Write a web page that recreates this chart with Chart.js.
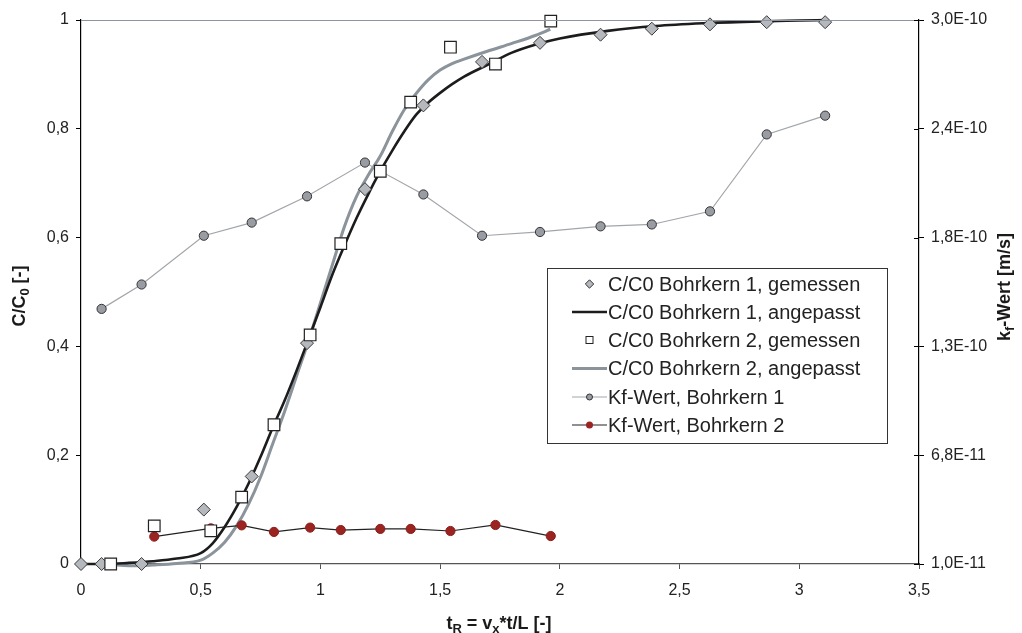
<!DOCTYPE html>
<html><head><meta charset="utf-8">
<script src="https://cdn.jsdelivr.net/npm/chart.js@4/dist/chart.umd.min.js"></script>
<style>html,body{margin:0;padding:0;background:#fff}</style>
</head><body>
<canvas id="c" width="1022" height="633"></canvas>
<script>
// ---- data ----
const m1X = [0, 0.086, 0.253, 0.513, 0.713, 0.944, 1.186, 1.43, 1.675, 1.917, 2.17, 2.384, 2.627, 2.864, 3.108];
const m1Y = [0, 0, 0, 0.10, 0.161, 0.406, 0.689, 0.843, 0.923, 0.958, 0.973, 0.984, 0.992, 0.996, 0.996];

const fit1X = [0, 0.1, 0.2, 0.3, 0.4, 0.5, 0.55, 0.6, 0.65, 0.7, 0.75, 0.8, 0.85, 0.9, 0.95, 1.0, 1.05, 1.1, 1.15, 1.2, 1.25, 1.3, 1.35, 1.4, 1.45, 1.5, 1.55, 1.6, 1.7, 1.8, 1.9, 2.0, 2.2, 2.4, 2.6, 2.8, 3.0, 3.11];
const fit1Y = [0, 0, 0.002, 0.005, 0.01, 0.02, 0.038, 0.068, 0.105, 0.148, 0.197, 0.25, 0.3, 0.355, 0.413, 0.472, 0.532, 0.585, 0.635, 0.68, 0.722, 0.76, 0.795, 0.826, 0.848, 0.866, 0.882, 0.896, 0.918, 0.94, 0.955, 0.966, 0.98, 0.989, 0.994, 0.997, 0.999, 1.0];

const m2X = [0.124, 0.306, 0.542, 0.671, 0.806, 0.957, 1.085, 1.25, 1.377, 1.543, 1.731, 1.962];
const m2Y = [0, 0.07, 0.061, 0.123, 0.256, 0.421, 0.589, 0.722, 0.849, 0.950, 0.919, 0.998];

const fit2X = [0.1, 0.15, 0.2, 0.25, 0.3, 0.4, 0.5, 0.55, 0.6, 0.65, 0.7, 0.75, 0.8, 0.85, 0.9, 0.95, 1.0, 1.05, 1.1, 1.15, 1.2, 1.25, 1.3, 1.35, 1.4, 1.45, 1.5, 1.55, 1.6, 1.7, 1.8, 1.9, 1.96];
const fit2Y = [0, -0.002, -0.003, -0.003, -0.002, 0.001, 0.007, 0.02, 0.04, 0.07, 0.11, 0.16, 0.22, 0.28, 0.345, 0.41, 0.48, 0.55, 0.62, 0.675, 0.715, 0.75, 0.795, 0.835, 0.865, 0.89, 0.908, 0.92, 0.928, 0.943, 0.957, 0.972, 0.983];

const kf1X = [0.086, 0.253, 0.513, 0.713, 0.944, 1.186, 1.43, 1.675, 1.917, 2.17, 2.384, 2.627, 2.864, 3.108];
const kf1Y = [1.46e-10, 1.59e-10, 1.85e-10, 1.92e-10, 2.06e-10, 2.24e-10, 2.07e-10, 1.85e-10, 1.87e-10, 1.90e-10, 1.91e-10, 1.98e-10, 2.39e-10, 2.49e-10];

const kf2X = [0.306, 0.542, 0.671, 0.806, 0.957, 1.085, 1.25, 1.377, 1.543, 1.731, 1.962];
const kf2Y = [2.46e-11, 2.90e-11, 3.06e-11, 2.71e-11, 2.94e-11, 2.81e-11, 2.87e-11, 2.87e-11, 2.76e-11, 3.08e-11, 2.49e-11];

const xTickLabels = ['0', '0,5', '1', '1,5', '2', '2,5', '3', '3,5'];
const yTickLabels = ['0', '0,2', '0,4', '0,6', '0,8', '1'];
const y2TickValues = [1.0e-11, 6.8e-11, 1.26e-10, 1.84e-10, 2.42e-10, 3.0e-10];
const y2TickLabels = ['1,0E-11', '6,8E-11', '1,3E-10', '1,8E-10', '2,4E-10', '3,0E-10'];

const seriesNames = ['C/C0 Bohrkern 1, gemessen', 'C/C0 Bohrkern 1, angepasst', 'C/C0 Bohrkern 2, gemessen', 'C/C0 Bohrkern 2, angepasst', 'Kf-Wert, Bohrkern 1', 'Kf-Wert, Bohrkern 2'];

const pts = (xs, ys) => xs.map((x, i) => ({x: x, y: ys[i]}));
const FONT = "'Liberation Sans', Arial, sans-serif";

const datasets = [
  {label: seriesNames[0], data: pts(m1X, m1Y), showLine: false, pointStyle: 'rectRot', pointRadius: 6.5,
   pointBackgroundColor: '#b5b8bd', pointBorderColor: '#3a3a3a', pointBorderWidth: 1, yAxisID: 'y', order: 1, clip: false},
  {label: seriesNames[1], data: pts(fit1X, fit1Y), borderColor: '#1c1c1c', borderWidth: 2.6, pointRadius: 0,
   cubicInterpolationMode: 'monotone', yAxisID: 'y', order: 5, clip: false},
  {label: seriesNames[2], data: pts(m2X, m2Y), showLine: false, pointStyle: 'rect', pointRadius: 8.2,
   pointBackgroundColor: '#ffffff', pointBorderColor: '#222', pointBorderWidth: 1.2, yAxisID: 'y', order: 0, clip: false},
  {label: seriesNames[3], data: pts(fit2X, fit2Y), borderColor: '#8b939b', borderWidth: 3, pointRadius: 0,
   cubicInterpolationMode: 'monotone', yAxisID: 'y', order: 6, clip: false},
  {label: seriesNames[4], data: pts(kf1X, kf1Y), borderColor: '#a2a6ab', borderWidth: 1.2, pointRadius: 4.6,
   pointStyle: 'circle', pointBackgroundColor: '#999da3', pointBorderColor: '#333', pointBorderWidth: 1, yAxisID: 'y2', order: 3, clip: false},
  {label: seriesNames[5], data: pts(kf2X, kf2Y), borderColor: '#222', borderWidth: 1.2, pointRadius: 4.6,
   pointStyle: 'circle', pointBackgroundColor: '#9b2320', pointBorderColor: '#8a1f1c', pointBorderWidth: 1, yAxisID: 'y2', order: 2, clip: false}
];

function drawSubText(ctx, parts, x, y, align) {
  const big = 'bold 18px ' + FONT, small = 'bold 13px ' + FONT;
  let w = 0;
  parts.forEach(p => { ctx.font = p[1] ? small : big; w += ctx.measureText(p[0]).width; });
  let cx = align === 'center' ? x - w / 2 : x;
  ctx.textAlign = 'left';
  ctx.textBaseline = 'alphabetic';
  parts.forEach(p => {
    ctx.font = p[1] ? small : big;
    ctx.fillText(p[0], cx, p[1] ? y + 4 : y);
    cx += ctx.measureText(p[0]).width;
  });
}

const decor = {
  id: 'decor',
  afterDraw(chart) {
    const ctx = chart.ctx, a = chart.chartArea;
    ctx.save();
    ctx.strokeStyle = '#8f959c'; ctx.lineWidth = 1;
    ctx.beginPath(); ctx.moveTo(a.left, a.top + 0.5); ctx.lineTo(a.right, a.top + 0.5); ctx.stroke();
    const y2 = chart.scales.y2;
    ctx.strokeStyle = '#000';
    y2.ticks.forEach(t => {
      const py = Math.round(y2.getPixelForValue(t.value)) + 0.5;
      ctx.beginPath(); ctx.moveTo(a.right - 5, py); ctx.lineTo(a.right, py); ctx.stroke();
    });
    // legend
    const bx = 547, by = 268, bw = 340, bh = 175;
    ctx.fillStyle = '#fff'; ctx.fillRect(bx, by, bw, bh);
    ctx.strokeStyle = '#333'; ctx.lineWidth = 1;
    ctx.strokeRect(bx + 0.5, by + 0.5, bw, bh);
    const rowY = [284, 312, 340, 368.5, 397, 425];
    const lx0 = 572, lx1 = 607, mx = 589.5;
    ctx.font = '20px ' + FONT; ctx.fillStyle = '#222'; ctx.textBaseline = 'middle'; ctx.textAlign = 'left';
    seriesNames.forEach((n, i) => ctx.fillText(n, 608, rowY[i] + 1));
    ctx.beginPath(); let r = 4.2, yy = rowY[0];
    ctx.moveTo(mx, yy - r); ctx.lineTo(mx + r, yy); ctx.lineTo(mx, yy + r); ctx.lineTo(mx - r, yy); ctx.closePath();
    ctx.fillStyle = '#b5b8bd'; ctx.fill(); ctx.strokeStyle = '#333'; ctx.stroke();
    ctx.strokeStyle = '#1c1c1c'; ctx.lineWidth = 2.6;
    ctx.beginPath(); ctx.moveTo(lx0, rowY[1]); ctx.lineTo(lx1, rowY[1]); ctx.stroke();
    ctx.lineWidth = 1; ctx.fillStyle = '#fff'; ctx.strokeStyle = '#222';
    ctx.fillRect(mx - 3.5, rowY[2] - 3.5, 7, 7); ctx.strokeRect(mx - 3.5, rowY[2] - 3.5, 7, 7);
    ctx.strokeStyle = '#8b939b'; ctx.lineWidth = 3;
    ctx.beginPath(); ctx.moveTo(lx0, rowY[3]); ctx.lineTo(lx1, rowY[3]); ctx.stroke();
    ctx.strokeStyle = '#a2a6ab'; ctx.lineWidth = 1.2;
    ctx.beginPath(); ctx.moveTo(lx0, rowY[4]); ctx.lineTo(lx1, rowY[4]); ctx.stroke();
    ctx.beginPath(); ctx.arc(mx, rowY[4], 3, 0, Math.PI * 2); ctx.fillStyle = '#999da3'; ctx.fill();
    ctx.strokeStyle = '#333'; ctx.lineWidth = 1; ctx.stroke();
    ctx.strokeStyle = '#222'; ctx.lineWidth = 1.2;
    ctx.beginPath(); ctx.moveTo(lx0, rowY[5]); ctx.lineTo(lx1, rowY[5]); ctx.stroke();
    ctx.beginPath(); ctx.arc(mx, rowY[5], 3.5, 0, Math.PI * 2); ctx.fillStyle = '#9b2320'; ctx.fill();
    // axis titles
    ctx.fillStyle = '#1a1a1a';
    drawSubText(ctx, [['t', 0], ['R', 1], [' = v', 0], ['x', 1], ['*t/L [-]', 0]], 499, 629, 'center');
    ctx.save(); ctx.translate(25, 296); ctx.rotate(-Math.PI / 2);
    drawSubText(ctx, [['C/C', 0], ['0', 1], [' [-]', 0]], 0, 0, 'center');
    ctx.restore();
    ctx.save(); ctx.translate(1010, 287); ctx.rotate(-Math.PI / 2);
    drawSubText(ctx, [['k', 0], ['f', 1], ['-Wert [m/s]', 0]], 0, 0, 'center');
    ctx.restore();
    ctx.restore();
  }
};

new Chart(document.getElementById('c'), {
  type: 'line',
  data: {datasets: datasets},
  options: {
    responsive: false, animation: false, devicePixelRatio: 1,
    layout: {padding: {top: 20, left: 0, right: 0, bottom: 0}},
    plugins: {legend: {display: false}, tooltip: {enabled: false}, title: {display: false}},
    scales: {
      x: {type: 'linear', position: 'bottom', min: 0, max: 3.5,
        ticks: {stepSize: 0.5, color: '#222', font: {family: FONT, size: 16}, padding: 12, maxRotation: 0,
          callback: (v, i) => xTickLabels[i]},
        grid: {drawOnChartArea: false, drawTicks: true, tickLength: 5, color: '#555'},
        border: {display: true, color: '#555', width: 1.2},
        afterFit: s => { s.height = 69; }},
      y: {type: 'linear', position: 'left', min: 0, max: 1,
        ticks: {stepSize: 0.2, color: '#222', font: {family: FONT, size: 16}, padding: 7,
          callback: (v, i) => yTickLabels[i]},
        grid: {drawOnChartArea: false, drawTicks: true, tickLength: 5, color: '#000'},
        border: {display: true, color: '#000', width: 1.2},
        afterFit: s => { s.width = 81; }},
      y2: {type: 'linear', position: 'right', min: y2TickValues[0], max: y2TickValues[y2TickValues.length - 1],
        afterBuildTicks: s => { s.ticks = y2TickValues.map(v => ({value: v})); },
        ticks: {color: '#222', font: {family: FONT, size: 16}, padding: 7,
          callback: (v, i) => y2TickLabels[i]},
        grid: {drawOnChartArea: false, drawTicks: true, tickLength: 5, color: '#000'},
        border: {display: true, color: '#000', width: 1.2},
        afterFit: s => { s.width = 103; }}
    }
  },
  plugins: [decor]
});
</script>
</body></html>
